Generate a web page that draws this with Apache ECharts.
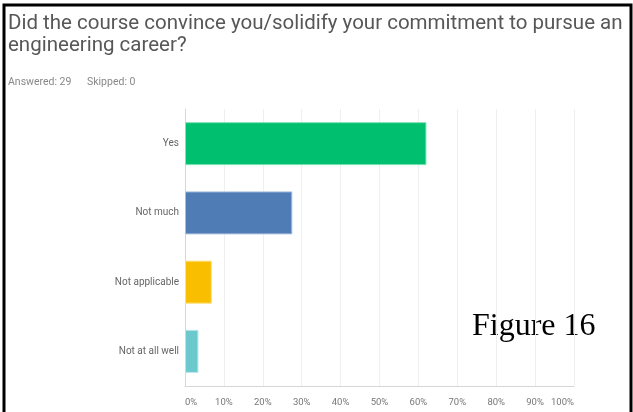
<!DOCTYPE html>
<html>
<head>
<meta charset="utf-8">
<script src="https://cdn.jsdelivr.net/npm/echarts@6/dist/echarts.min.js"></script>
<style>
html,body{margin:0;padding:0;background:#fff;}
#chart{width:633px;height:412px;}
</style>
</head>
<body>
<div id="chart"></div>
<script>
var titleLines = ["Did the course convince you/solidify your commitment to pursue an", "engineering career?"];
var answeredText = "Answered: 29";
var skippedText = "Skipped: 0";
var figureLabel = "Figure 16";
var categories = ["Yes", "Not much", "Not applicable", "Not at all well"];
var percents = [62.07, 27.59, 6.90, 3.45];
var barColors = ["#00BF6F", "#507CB6", "#F9BE00", "#6BC8CD"];
var barBorders = ["#80e2b8", "#a8bfdc", "#fce07f", "#b5e4e6"];

var chart = echarts.init(document.getElementById('chart'), null, {renderer: 'canvas'});
var option = {
  animation: false,
  backgroundColor: '#ffffff',
  title: [{
    text: titleLines.join('\n'),
    left: 8, top: 13, padding: 0,
    textStyle: {fontFamily: 'Roboto', fontSize: 20.5, fontWeight: 'normal', color: '#575757', lineHeight: 22}
  }],
  grid: {left: 185, right: 59, top: 109, bottom: 26, containLabel: false},
  xAxis: {
    type: 'value', min: 0, max: 100, interval: 10,
    axisLine: {show: true, lineStyle: {color: '#d6d6d6', width: 1}},
    axisTick: {show: false},
    splitLine: {show: true, lineStyle: {color: '#efefef', width: 1}},
    axisLabel: {
      formatter: function (v) { return v + '%'; },
      fontFamily: 'Roboto', fontSize: 9.5, color: '#777777', margin: 12,
      alignMinLabel: 'left', alignMaxLabel: 'right'
    }
  },
  yAxis: {
    type: 'category', data: categories, inverse: true,
    axisLine: {show: true, lineStyle: {color: '#d6d6d6', width: 1}},
    axisTick: {show: false},
    axisLabel: {fontFamily: 'Roboto', fontSize: 10, color: '#666666', margin: 6}
  },
  series: [{
    type: 'bar',
    barWidth: 43,
    data: percents.map(function (v, i) {
      return {value: v, itemStyle: {color: barColors[i], borderColor: barBorders[i], borderWidth: 1}};
    })
  }],
  graphic: [
    {type: 'text', left: 8, top: 77, style: {text: answeredText, font: '10.5px Roboto', fill: '#888888'}},
    {type: 'text', left: 87, top: 77, style: {text: skippedText, font: '10.5px Roboto', fill: '#888888'}},
    {type: 'text', left: 472, top: 311, style: {text: figureLabel, font: '32px "Liberation Serif"', fill: '#000000'}},
    {type: 'rect', shape: {x: 4, y: 5, width: 627, height: 430}, style: {fill: 'none', stroke: '#000000', lineWidth: 3}, silent: true, z: 100}
  ]
};
chart.setOption(option);
</script>
</body>
</html>
